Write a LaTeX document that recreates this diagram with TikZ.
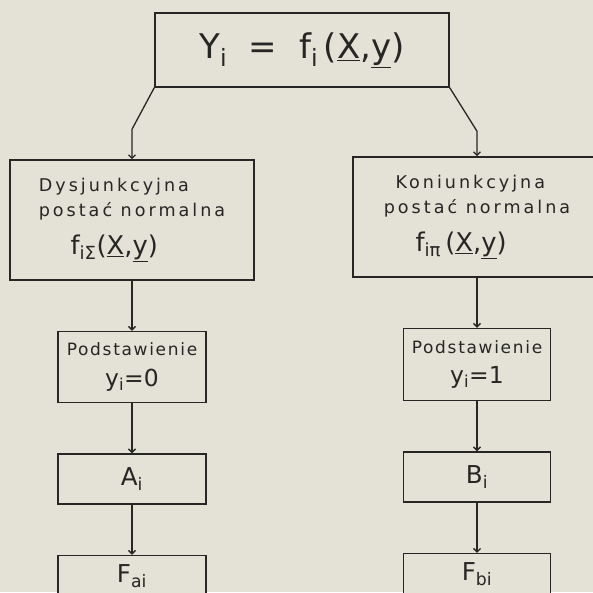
\documentclass[tikz,border=0pt]{standalone}
\usepackage{fontspec}
\setmainfont{DejaVu Sans}
\usetikzlibrary{arrows.meta, positioning}
\definecolor{paper}{RGB}{228,225,214}
\definecolor{ink}{RGB}{38,38,36}

\begin{document}
\begin{tikzpicture}[
    >={Straight Barb[length=3pt,width=6pt]}, node distance=1.5cm,
    box/.style={draw=ink, line width=1.3pt, fill=paper, text=ink,
                align=center, inner sep=2pt},
    form/.style={box, align=left,
                 font=\fontsize{15}{22}\selectfont\addfontfeature{LetterSpace=17}},
    subst/.style={box, align=center,
                  font=\fontsize{14.5}{26}\selectfont\addfontfeature{LetterSpace=10}},
    link/.style={->, draw=ink, line width=1.1pt}
  ]
  \fill[paper] (0,0) rectangle (17.79,-17.76);
  \useasboundingbox (0,0) rectangle (17.79,-17.76);
  \clip (0,0) rectangle (17.79,-17.76);

  \node[box, minimum width=8.82cm, minimum height=2.22cm,
        font=\fontsize{29}{30}\selectfont] (top) at (9.06,-1.5)
    {Y\textsubscript{i}\ \ =\ \ f\textsubscript{i}\,(\underline{X},\underline{y})};

  \node[form, minimum width=7.32cm, minimum height=3.6cm] (dis) at (3.96,-6.6)
    {Dysjunkcyjna\\
     postać normalna\\[10pt]
     \hspace*{0.95cm}\fontsize{22}{24}\selectfont\addfontfeature{LetterSpace=0}%
     f\textsubscript{iΣ}(\underline{X},\underline{y})};
  \node[form, minimum width=7.44cm, minimum height=3.6cm] (kon) at (14.31,-6.51)
    {\hspace*{0.35cm}Koniunkcyjna\\
     postać normalna\\[10pt]
     \hspace*{0.95cm}\fontsize{22}{24}\selectfont\addfontfeature{LetterSpace=0}%
     f\textsubscript{iπ}\,(\underline{X},\underline{y})};

  % left branch
  \node[subst, minimum width=4.44cm, minimum height=2.13cm, below=of dis] (podl)
    {Podstawienie\\
     \fontsize{20}{24}\selectfont\addfontfeature{LetterSpace=0}y\textsubscript{i}=0};
  \node[box, minimum width=4.44cm, minimum height=1.5cm, below=of podl,
        font=\fontsize{21}{24}\selectfont] (ai) {A\textsubscript{i}};
  \node[box, minimum width=4.44cm, minimum height=1.25cm, below=of ai,
        font=\fontsize{21}{24}\selectfont] (fai) {F\textsubscript{ai}};

  % right branch
  \node[subst, minimum width=4.41cm, minimum height=2.16cm, below=of kon] (podr)
    {Podstawienie\\
     \fontsize{20}{24}\selectfont\addfontfeature{LetterSpace=0}y\textsubscript{i}=1};
  \node[box, minimum width=4.41cm, minimum height=1.5cm, below=of podr,
        font=\fontsize{21}{24}\selectfont] (bi) {B\textsubscript{i}};
  \node[box, minimum width=4.41cm, minimum height=1.25cm, below=of bi,
        font=\fontsize{21}{24}\selectfont] (fbi) {F\textsubscript{bi}};

  \coordinate[above=0.9cm of dis.north] (lbend);
  \coordinate[above=0.75cm of kon.north] (rbend);
  \draw[link] (top.south west) -- (lbend) -- (dis.north);
  \draw[link] (top.south east) -- (rbend) -- (kon.north);
  \draw[link] (dis) -- (podl);
  \draw[link] (podl) -- (ai);
  \draw[link] (ai) -- (fai);
  \draw[link] (kon) -- (podr);
  \draw[link] (podr) -- (bi);
  \draw[link] (bi) -- (fbi);
\end{tikzpicture}
\end{document}
